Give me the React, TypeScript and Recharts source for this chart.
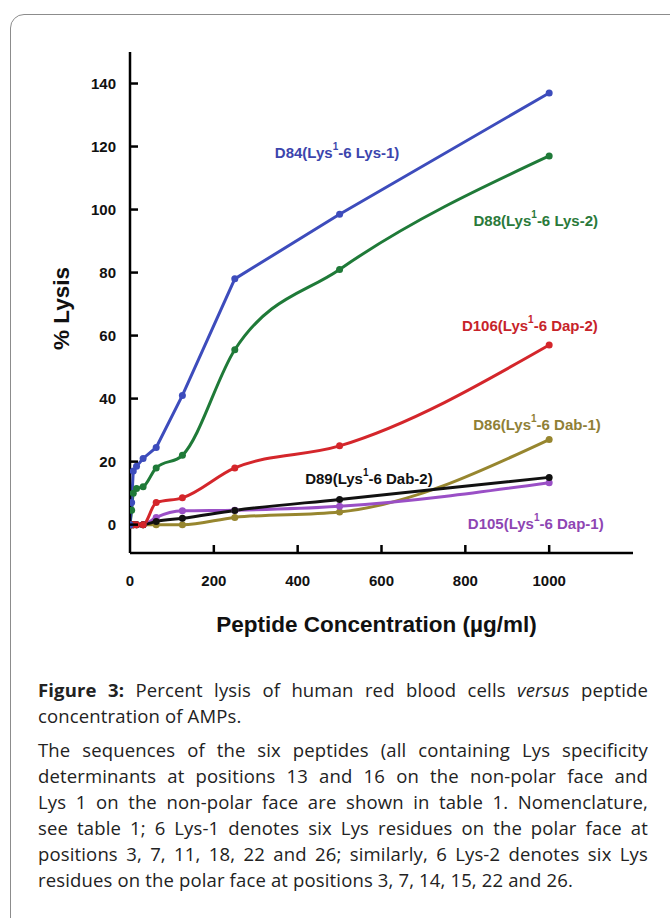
import React from 'react';
import { LineChart, Line, XAxis, YAxis, ReferenceDot } from 'recharts';

// peptide concentration (µg/ml), two-fold dilution series
const concentrations = [0, 3.9, 7.8, 15.6, 31.25, 62.5, 125, 250, 500, 1000];

// % lysis per peptide
const d84 = [0, 7, 17, 18.5, 21, 24.5, 41, 78, 98.5, 137];
const d88 = [0, 4.6, 10, 11.5, 12, 18, 22, 55.5, 81, 117];
const d106 = [0, 0, 0, 0, 0, 7, 8.5, 18, 25, 57];
const d86 = [0, 0, 0, 0, 0, 0, 0, 2.3, 4, 27];
const d89 = [0, 0, 0, 0, 0, 1, 2, 4.5, 8, 15];
const d105 = [0, 0, 0, 0, 0, 2.3, 4.4, 4.6, 5.8, 13.3];

const xTicks = [0, 200, 400, 600, 800, 1000];
const yTicks = [0, 20, 40, 60, 80, 100, 120, 140];

const series = [
  { key: 'd86', name: 'D86', suffix: '-6 Dab-1)', values: d86, color: '#97862f', text: '#8f8036', curve: 'monotone' },
  { key: 'd105', name: 'D105', suffix: '-6 Dap-1)', values: d105, color: '#9a4fc6', text: '#8e45b3', curve: 'monotone' },
  { key: 'd89', name: 'D89', suffix: '-6 Dab-2)', values: d89, color: '#111111', text: '#111111', curve: 'monotone' },
  { key: 'd106', name: 'D106', suffix: '-6 Dap-2)', values: d106, color: '#d4262b', text: '#c7232a', curve: 'monotone' },
  { key: 'd88', name: 'D88', suffix: '-6 Lys-2)', values: d88, color: '#1f7a38', text: '#2a7a3a', curve: 'monotone' },
  { key: 'd84', name: 'D84', suffix: '-6 Lys-1)', values: d84, color: '#3d4cbc', text: '#3c45ad', curve: 'linear' },
];

// where each series name sits, in data units
const labelAt: Record<string, [number, number]> = {
  d84: [494, 118.2],
  d88: [968, 96.7],
  d106: [954, 63.4],
  d86: [971, 31.9],
  d89: [570, 14.8],
  d105: [968, 0.5],
};

const data = concentrations.map((c, i) => {
  const row: Record<string, number> = { conc: c };
  series.forEach((s) => (row[s.key] = s.values[i]));
  return row;
});

const FONT = '"Liberation Sans", Arial, Helvetica, sans-serif';

const BottomTick = (props: any) => {
  const { x, y, payload } = props;
  return (
    <g>
      {payload.value !== 0 && <line x1={x} x2={x} y1={y} y2={y - 8} stroke="#000" strokeWidth={2.5} />}
      <text x={x} y={y + 33} textAnchor="middle" fontFamily={FONT} fontWeight="bold" fontSize={15} fill="#111">
        {payload.value}
      </text>
    </g>
  );
};

const TopTick = (props: any) => {
  const { x, y } = props;
  return <line x1={x} x2={x} y1={y} y2={y + 8} stroke="#000" strokeWidth={2.5} />;
};

const LeftTick = (props: any) => {
  const { x, y, payload } = props;
  return (
    <g>
      <line x1={x} x2={x + 8} y1={y} y2={y} stroke="#000" strokeWidth={2.5} />
      <text x={x - 14} y={y} dominantBaseline="central" textAnchor="end" fontFamily={FONT} fontWeight="bold" fontSize={15} fill="#111">
        {payload.value}
      </text>
    </g>
  );
};

const RightTick = (props: any) => {
  const { x, y } = props;
  return <line x1={x} x2={x - 8} y1={y} y2={y} stroke="#000" strokeWidth={2.5} />;
};

const XTitle = (props: any) => {
  const vb = props.viewBox;
  return (
    <text x={vb.x + vb.width / 2 - 5} y={vb.y + 79} textAnchor="middle" fontFamily={FONT} fontWeight="bold" fontSize={22.5} fill="#111">
      Peptide Concentration (µg/ml)
    </text>
  );
};

const YTitle = (props: any) => {
  const vb = props.viewBox;
  const cx = 69;
  const cy = vb.y + vb.height / 2 + 6;
  return (
    <text x={cx} y={cy} transform={`rotate(-90 ${cx} ${cy})`} textAnchor="middle" fontFamily={FONT} fontWeight="bold" fontSize={22.5} fill="#111">
      % Lysis
    </text>
  );
};

const SeriesName = ({ cx, cy, name, suffix, color }: any) => (
  <text x={cx} y={cy} textAnchor="middle" dominantBaseline="central" fontFamily={FONT} fontWeight="bold" fontSize={15} fill={color}>
    <tspan>{name}(Lys</tspan>
    <tspan fontSize={10} dy={-6}>1</tspan>
    <tspan dy={6}>{suffix}</tspan>
  </text>
);

const captionLines2 = [
  'The sequences of the six peptides (all containing Lys specificity',
  'determinants at positions 13 and 16 on the non-polar face and',
  'Lys 1 on the non-polar face are shown in table 1. Nomenclature,',
  'see table 1; 6 Lys-1 denotes six Lys residues on the polar face at',
  'positions 3, 7, 11, 18, 22 and 26; similarly, 6 Lys-2 denotes six Lys',
  'residues on the polar face at positions 3, 7, 14, 15, 22 and 26.',
];

const lineStyle = (last: boolean): React.CSSProperties => ({
  textAlign: last ? 'left' : 'justify',
  textAlignLast: last ? 'left' : 'justify',
  height: 26,
  whiteSpace: 'normal',
});

export default function App() {
  return (
    <div style={{ position: 'absolute', left: 0, top: 0, width: 670, height: 918, overflow: 'hidden', background: '#fff' }}>
      <div
        style={{
          position: 'absolute',
          left: 10,
          top: 14,
          width: 720,
          height: 980,
          border: '1.5px solid #8c8c8c',
          borderRadius: 14,
          boxSizing: 'border-box',
        }}
      />
      <div style={{ position: 'absolute', left: 0, top: 0 }}>
        <LineChart width={670} height={660} data={data} margin={{ top: 52, right: 37, bottom: 0, left: 0 }}>
          <XAxis
            dataKey="conc"
            type="number"
            domain={[0, 1200]}
            ticks={xTicks}
            height={107}
            tickSize={0}
            tickMargin={0}
            tickLine={false}
            axisLine={{ stroke: '#000', strokeWidth: 2.5 }}
            tick={<BottomTick />}
            interval={0}
            allowDataOverflow
            label={<XTitle />}
          />
          <XAxis
            xAxisId="top"
            orientation="top"
            dataKey="conc"
            type="number"
            domain={[0, 1200]}
            ticks={xTicks.slice(1)}
            height={0}
            tickSize={0}
            tickMargin={0}
            tickLine={false}
            axisLine={{ stroke: '#000', strokeWidth: 2.5 }}
            tick={<TopTick />}
            interval={0}
            allowDataOverflow
          />
          <YAxis
            type="number"
            domain={[-9, 150]}
            ticks={yTicks}
            width={130}
            tickSize={0}
            tickMargin={0}
            tickLine={false}
            axisLine={{ stroke: '#000', strokeWidth: 2.5 }}
            tick={<LeftTick />}
            interval={0}
            allowDataOverflow
            label={<YTitle />}
          />
          <YAxis
            yAxisId="right"
            orientation="right"
            type="number"
            domain={[-9, 150]}
            ticks={yTicks}
            width={0}
            tickSize={0}
            tickMargin={0}
            tickLine={false}
            axisLine={{ stroke: '#000', strokeWidth: 2.5 }}
            tick={<RightTick />}
            interval={0}
            allowDataOverflow
          />
          {series.map((s) => (
            <Line
              key={s.key}
              dataKey={s.key}
              type={s.curve as any}
              stroke={s.color}
              strokeWidth={3}
              dot={{ r: 3.5, fill: s.color, stroke: s.color, strokeWidth: 0 }}
              activeDot={false}
              isAnimationActive={false}
            />
          ))}
          {series.map((s) => (
            <ReferenceDot
              key={'lbl-' + s.key}
              x={labelAt[s.key][0]}
              y={labelAt[s.key][1]}
              r={1}
              shape={(p: any) => <SeriesName cx={p.cx} cy={p.cy} name={s.name} suffix={s.suffix} color={s.text} />}
            />
          ))}
        </LineChart>
      </div>
      <div
        style={{
          position: 'absolute',
          left: 38,
          top: 677,
          width: 610,
          fontFamily: '"Open Sans", "Noto Sans", sans-serif',
          fontSize: 18.5,
          letterSpacing: 0.15,
          lineHeight: '26px',
          color: '#222',
        }}
      >
        <div style={lineStyle(false)}>
          <b>Figure 3:</b> Percent lysis of human red blood cells <i>versus</i> peptide
        </div>
        <div style={lineStyle(true)}>concentration of AMPs.</div>
        <div style={{ height: 8 }} />
        {captionLines2.map((t, i) => (
          <div key={i} style={lineStyle(i === captionLines2.length - 1)}>
            {t}
          </div>
        ))}
      </div>
    </div>
  );
}
